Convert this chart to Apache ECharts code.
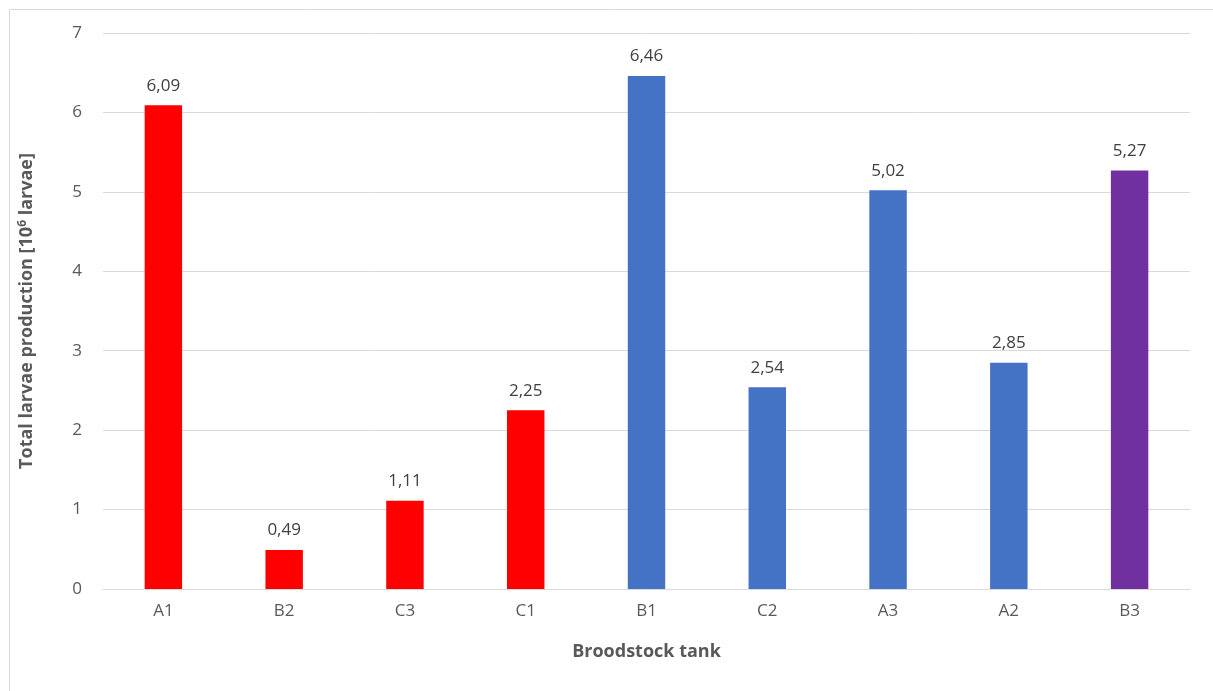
<!DOCTYPE html>
<html>
<head>
<meta charset="utf-8">
<script src="https://cdn.jsdelivr.net/npm/echarts@6/dist/echarts.min.js"></script>
<style>
  html, body { margin: 0; padding: 0; background: #fff; }
  #chart { width: 1213px; height: 691px; }
</style>
</head>
<body>
<div id="chart"></div>
<script>
// Broodstock tanks, in display order
const tanks = ['A1', 'B2', 'C3', 'C1', 'B1', 'C2', 'A3', 'A2', 'B3'];
// Total larvae production per tank [10^6 larvae]
const production = [6.09, 0.49, 1.11, 2.25, 6.46, 2.54, 5.02, 2.85, 5.27];
// Group colour of each tank
const groupColors = ['#FF0000', '#FF0000', '#FF0000', '#FF0000', '#4472C4', '#4472C4', '#4472C4', '#4472C4', '#7030A0'];
const yTicks = [0, 1, 2, 3, 4, 5, 6, 7];

const FONT = '"Open Sans", "Liberation Sans", sans-serif';

const chart = echarts.init(document.getElementById('chart'), null, { renderer: 'canvas' });

chart.setOption({
  animation: false,
  backgroundColor: '#ffffff',
  graphic: [{
    type: 'rect',
    shape: { x: 9.5, y: 9.5, width: 1400, height: 900 },
    style: { fill: 'none', stroke: '#d9d9d9', lineWidth: 1 },
    silent: true
  }],
  grid: { left: 103, right: 23, top: 33, bottom: 102, containLabel: false },
  xAxis: {
    type: 'category',
    data: tanks,
    name: 'Broodstock tank',
    nameLocation: 'middle',
    nameGap: 54,
    nameTextStyle: { fontFamily: FONT, fontSize: 18, fontWeight: 'bold', color: '#595959' },
    axisLine: { lineStyle: { color: '#d9d9d9', width: 1 } },
    axisTick: { show: false },
    axisLabel: { fontFamily: FONT, fontSize: 17, color: '#595959', margin: 14 }
  },
  yAxis: {
    type: 'value',
    min: yTicks[0],
    max: yTicks[yTicks.length - 1],
    interval: 1,
    name: '{t|Total larvae production [10}{s|6}{t| larvae]}',
    nameLocation: 'middle',
    nameGap: 66,
    nameRotate: 90,
    nameTextStyle: {
      rich: {
        t: { fontFamily: FONT, fontSize: 18, fontWeight: 'bold', color: '#595959' },
        s: { fontFamily: FONT, fontSize: 12, fontWeight: 'bold', color: '#595959', verticalAlign: 'top', padding: [0, 0, 8, 0] }
      }
    },
    axisLine: { show: false },
    axisTick: { show: false },
    axisLabel: { fontFamily: FONT, fontSize: 17, color: '#595959', margin: 21 },
    splitLine: { lineStyle: { color: '#d9d9d9', width: 1 } }
  },
  series: [{
    type: 'bar',
    barWidth: '31%',
    data: production.map((v, i) => ({ value: v, itemStyle: { color: groupColors[i] } })),
    label: {
      show: true,
      position: 'top',
      distance: 11,
      fontFamily: FONT,
      fontSize: 17,
      color: '#404040',
      formatter: p => p.value.toFixed(2).replace('.', ',')
    }
  }]
});
</script>
</body>
</html>
